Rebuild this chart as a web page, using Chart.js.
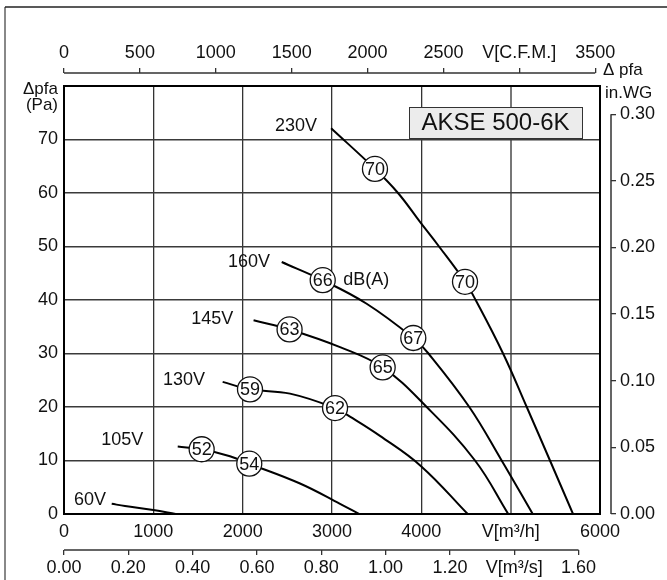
<!DOCTYPE html>
<html>
<head>
<meta charset="utf-8">
<title>AKSE 500-6K</title>
<script src="https://cdn.jsdelivr.net/npm/chart.js@4.4.1/dist/chart.umd.min.js"></script>
<style>
  html, body { margin: 0; padding: 0; background: #fff; }
  #wrap { width: 667px; height: 580px; }
</style>
</head>
<body>
<div id="wrap"><canvas id="chart" width="667" height="580"></canvas></div>
<script>
// fan curves: air flow V [m3/h] against pressure pfa [Pa], one pair per voltage
const flow230 = [2990, 3481, 3739, 3985, 4198, 4489, 4608, 4915, 5180, 5440, 5698];
const pa230   = [72.1, 64.5, 60.0, 54.6, 50.0, 43.4, 40.0, 30.0, 20.0, 10.0, 0];
const flow160 = [2437, 2896, 3388, 3910, 4080, 4537, 4899, 5247];
const pa160   = [47.1, 43.7, 39.3, 32.9, 30.0, 20.0, 10.0, 0];
const flow145 = [2122, 2525, 3090, 3567, 4060, 4601, 4973];
const pa145   = [36.2, 34.5, 31.2, 27.4, 20.0, 10.0, 0];
const flow130 = [1776, 2082, 2530, 3034, 3201, 3537, 4000, 4519];
const pa130   = [24.7, 23.3, 22.5, 19.8, 18.2, 14.6, 8.9, 0];
const flow105 = [1273, 1541, 1858, 2074, 2642, 3090, 3302];
const pa105   = [12.6, 12.1, 10.8, 9.4, 5.7, 1.9, 0];
const flow60  = [534, 683, 1000, 1250];
const pa60    = [1.9, 1.5, 0.75, 0];

// sound level markers dB(A)
const dbFlow = [3481, 4489, 2896, 3910, 2525, 3567, 2082, 3034, 1541, 2074];
const dbPa   = [64.5, 43.4, 43.7, 32.9, 34.5, 27.4, 23.3, 19.8, 12.1, 9.4];
const dbText = ['70', '70', '66', '67', '63', '65', '59', '62', '52', '54'];

// voltage captions (anchor = right end of text, in data units)
const voltNames = ['230V', '160V', '145V', '130V', '105V', '60V'];
const voltFlow  = [2832, 2306, 1895, 1578, 888, 470];
const voltPa    = [72.6, 47.1, 36.4, 25.0, 13.8, 2.7];

// axes
const flowTicks = [0, 1000, 2000, 3000, 4000, 5000, 6000];
const flowText  = ['0', '1000', '2000', '3000', '4000', 'V[m³/h]', '6000'];
const paTicks   = [0, 10, 20, 30, 40, 50, 60, 70];
const cfmTicks  = [0, 500, 1000, 1500, 2000, 2500, 3000, 3500];
const cfmText   = ['0', '500', '1000', '1500', '2000', '2500', 'V[C.F.M.]', '3500'];
const m3sTicks  = [0, 0.2, 0.4, 0.6, 0.8, 1.0, 1.2, 1.4, 1.6];
const m3sText   = ['0.00', '0.20', '0.40', '0.60', '0.80', '1.00', '1.20', 'V[m³/s]', '1.60'];
const inwgTicks = [0, 0.05, 0.10, 0.15, 0.20, 0.25, 0.30];

const FLOW_MAX = 6000;
const PA_MAX = 80;
const M3H_PER_CFM = 1.699;
const PA_PER_INWG = 249.09;

const FONT = '"Liberation Sans", Arial, Helvetica, sans-serif';
Chart.defaults.font.family = FONT;
Chart.defaults.font.size = 18;
Chart.defaults.color = '#111';

function pts(xs, ys) {
    return xs.map((x, i) => ({ x: x, y: ys[i] }));
}

function curve(xs, ys) {
    return {
        type: 'line',
        data: pts(xs, ys),
        borderColor: '#000',
        borderWidth: 2,
        pointRadius: 0,
        fill: false,
        showLine: true,
        tension: 0.4,
        order: 2
    };
}

function fixedTicks(list) {
    return function (scale) {
        scale.ticks = list.map(v => ({ value: v }));
    };
}

function labelsFrom(list) {
    return function (value, index) {
        return list[index];
    };
}

const noRotate = { autoSkip: false, maxRotation: 0, minRotation: 0 };

const extras = {
    id: 'extras',
    beforeDraw(chart) {
        const ctx = chart.ctx;
        ctx.save();
        ctx.fillStyle = '#fff';
        ctx.fillRect(0, 0, chart.width, chart.height);
        // outer frame
        ctx.strokeStyle = '#888';
        ctx.lineWidth = 2;
        ctx.beginPath();
        ctx.moveTo(5, chart.height);
        ctx.lineTo(5, 7);
        ctx.stroke();
        ctx.strokeStyle = '#222';
        ctx.lineWidth = 1.5;
        ctx.beginPath();
        ctx.moveTo(5, 7);
        ctx.lineTo(chart.width, 7);
        ctx.stroke();
        ctx.restore();
    },
    afterDatasetsDraw(chart) {
        const ctx = chart.ctx;
        const xs = chart.scales.x;
        const ys = chart.scales.y;
        const area = chart.chartArea;
        ctx.save();

        // title box
        const bx = area.right - 191, by = area.top + 21, bw = 173, bh = 31;
        ctx.fillStyle = '#ececec';
        ctx.fillRect(bx, by, bw, bh);
        ctx.strokeStyle = '#333';
        ctx.lineWidth = 1;
        ctx.strokeRect(bx + 0.5, by + 0.5, bw, bh);
        ctx.fillStyle = '#111';
        ctx.font = '24px ' + FONT;
        ctx.textAlign = 'center';
        ctx.textBaseline = 'middle';
        ctx.fillText('AKSE 500-6K', bx + bw / 2, by + bh / 2 + 1);

        // voltage captions
        ctx.font = '18px ' + FONT;
        ctx.textAlign = 'right';
        voltNames.forEach((n, i) => {
            ctx.fillText(n, xs.getPixelForValue(voltFlow[i]), ys.getPixelForValue(voltPa[i]));
        });

        // dB(A) caption
        ctx.textAlign = 'left';
        ctx.fillText('dB(A)', xs.getPixelForValue(3127), ys.getPixelForValue(43.7));

        // numbers inside the sound markers
        ctx.textAlign = 'center';
        const meta = chart.getDatasetMeta(0);
        meta.data.forEach((p, i) => {
            ctx.fillText(dbText[i], p.x, p.y + 1);
        });

        // plot frame
        ctx.strokeStyle = '#000';
        ctx.lineWidth = 2;
        ctx.strokeRect(area.left, area.top, area.right - area.left, area.bottom - area.top);
        ctx.restore();
    },
    afterDraw(chart) {
        const ctx = chart.ctx;
        const area = chart.chartArea;
        ctx.save();
        ctx.strokeStyle = '#333';
        ctx.lineWidth = 1.5;

        // secondary axis lines, only over their tick range
        const cfm = chart.scales.cfm;
        ctx.beginPath();
        ctx.moveTo(cfm.getPixelForValue(cfmTicks[0]), cfm.bottom);
        ctx.lineTo(cfm.getPixelForValue(cfmTicks[cfmTicks.length - 1]), cfm.bottom);
        const m3s = chart.scales.m3s;
        ctx.moveTo(m3s.getPixelForValue(m3sTicks[0]), m3s.top);
        ctx.lineTo(m3s.getPixelForValue(m3sTicks[m3sTicks.length - 1]), m3s.top);
        const inwg = chart.scales.inwg;
        ctx.moveTo(inwg.left, inwg.getPixelForValue(inwgTicks[0]));
        ctx.lineTo(inwg.left, inwg.getPixelForValue(inwgTicks[inwgTicks.length - 1]));
        ctx.stroke();

        // axis captions
        ctx.fillStyle = '#111';
        ctx.font = '17px ' + FONT;
        ctx.textBaseline = 'middle';
        ctx.textAlign = 'right';
        ctx.fillText('\u0394pfa', area.left - 6, area.top + 3);
        ctx.fillText('(Pa)', area.left - 6, area.top + 19);
        ctx.textAlign = 'left';
        ctx.fillText('\u0394 pfa', inwg.left - 8, area.top - 16);
        ctx.fillText('in.WG', inwg.left - 6, area.top + 7);
        ctx.restore();
    }
};

const ctx = document.getElementById('chart').getContext('2d');

const chart = new Chart(ctx, {
    type: 'line',
    data: {
        datasets: [
            {
                type: 'scatter',
                data: pts(dbFlow, dbPa),
                pointRadius: 12.5,
                pointBackgroundColor: '#fff',
                pointBorderColor: '#111',
                pointBorderWidth: 1.3,
                showLine: false,
                order: 0
            },
            curve(flow230, pa230),
            curve(flow160, pa160),
            curve(flow145, pa145),
            curve(flow130, pa130),
            curve(flow105, pa105),
            curve(flow60, pa60)
        ]
    },
    options: {
        responsive: false,
        devicePixelRatio: 1,
        animation: false,
        events: [],
        layout: { padding: 0 },
        plugins: {
            legend: { display: false },
            tooltip: { enabled: false }
        },
        scales: {
            x: {
                type: 'linear',
                position: 'bottom',
                min: 0,
                max: FLOW_MAX,
                weight: 0,
                afterBuildTicks: fixedTicks(flowTicks),
                afterFit: s => { s.height = 36; },
                grid: {
                    color: c => (c.tick && c.tick.value === 5000 ? '#777' : '#333'),
                    lineWidth: c => (c.tick && c.tick.value === 5000 ? 2 : 1.3),
                    drawTicks: false
                },
                border: { display: false },
                ticks: Object.assign({ padding: 7, callback: labelsFrom(flowText) }, noRotate)
            },
            m3s: {
                type: 'linear',
                position: 'bottom',
                min: 0,
                max: FLOW_MAX / 3600,
                weight: 1,
                afterBuildTicks: fixedTicks(m3sTicks),
                afterFit: s => { s.height = 30; },
                grid: { drawOnChartArea: false, tickLength: 5, color: '#333', lineWidth: 1.3 },
                border: { display: false },
                ticks: Object.assign({ padding: 2, callback: labelsFrom(m3sText) }, noRotate)
            },
            topGap: {
                type: 'linear',
                position: 'top',
                min: 0,
                max: FLOW_MAX,
                weight: 0,
                afterFit: s => { s.height = 13; },
                grid: { display: false },
                border: { display: false },
                ticks: { display: false }
            },
            cfm: {
                type: 'linear',
                position: 'top',
                min: 0,
                max: FLOW_MAX / M3H_PER_CFM,
                weight: 1,
                afterBuildTicks: fixedTicks(cfmTicks),
                afterFit: s => { s.height = 73; },
                grid: { drawOnChartArea: false, tickLength: 5, color: '#333', lineWidth: 1.3 },
                border: { display: false },
                ticks: Object.assign({ padding: 4, callback: labelsFrom(cfmText) }, noRotate)
            },
            y: {
                type: 'linear',
                position: 'left',
                min: 0,
                max: PA_MAX,
                afterBuildTicks: fixedTicks(paTicks),
                afterFit: s => { s.width = 64; },
                grid: { color: '#3a3a3a', lineWidth: 1.4, drawTicks: false },
                border: { display: false },
                ticks: { padding: 6 }
            },
            rightGap: {
                type: 'linear',
                position: 'right',
                min: 0,
                max: PA_MAX,
                weight: 0,
                afterFit: s => { s.width = 11; },
                grid: { display: false },
                border: { display: false },
                ticks: { display: false }
            },
            inwg: {
                type: 'linear',
                position: 'right',
                min: 0,
                max: PA_MAX / PA_PER_INWG,
                weight: 1,
                afterBuildTicks: fixedTicks(inwgTicks),
                afterFit: s => { s.width = 56; },
                grid: { drawOnChartArea: false, tickLength: 5, color: '#333', lineWidth: 1.3 },
                border: { display: false },
                ticks: { padding: 4, callback: v => v.toFixed(2) }
            }
        }
    },
    plugins: [extras]
});
</script>
</body>
</html>
